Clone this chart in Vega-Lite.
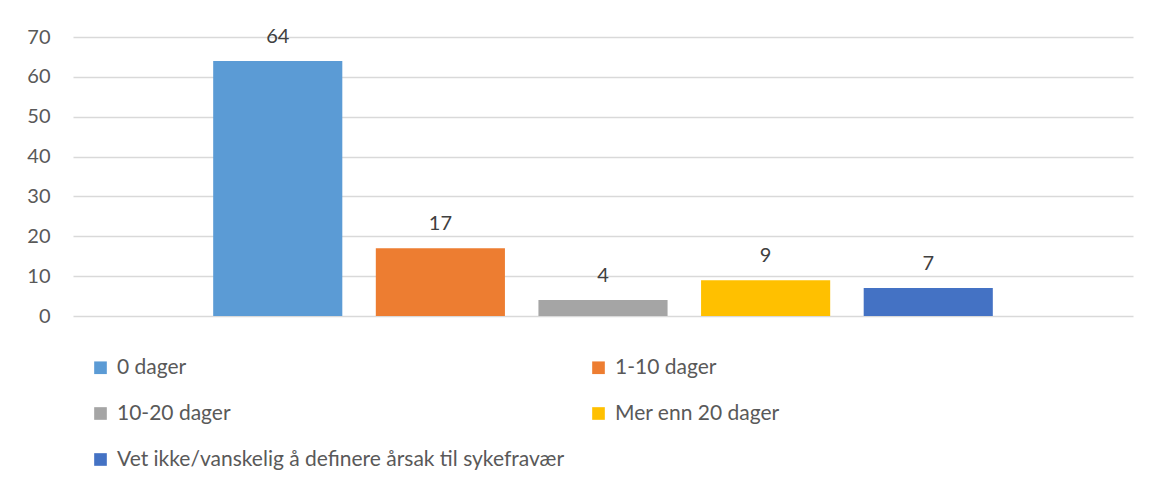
{
  "$schema": "https://vega.github.io/schema/vega-lite/v6.json",
  "width": 1060,
  "height": 279,
  "autosize": {"type": "none"},
  "padding": {"left": 73, "top": 37, "right": 20, "bottom": 170},
  "background": "white",
  "config": {
    "font": "Lato",
    "view": {"stroke": null}
  },
  "data": {
    "values": [
      {"kategori": "0 dager", "antall": 64},
      {"kategori": "1-10 dager", "antall": 17},
      {"kategori": "10-20 dager", "antall": 4},
      {"kategori": "Mer enn 20 dager", "antall": 9},
      {"kategori": "Vet ikke/vanskelig å definere årsak til sykefravær", "antall": 7}
    ]
  },
  "encoding": {
    "x": {
      "field": "kategori",
      "type": "nominal",
      "sort": null,
      "axis": null,
      "scale": {"paddingInner": 0.206, "paddingOuter": 0.862}
    },
    "y": {
      "field": "antall",
      "type": "quantitative",
      "scale": {"domain": [0, 70], "nice": false},
      "axis": {
        "title": null,
        "values": [0, 10, 20, 30, 40, 50, 60, 70],
        "domain": false,
        "ticks": false,
        "grid": true,
        "gridColor": "#d9d9d9",
        "gridWidth": 1.3,
        "labelFontSize": 20,
        "labelColor": "#595959",
        "labelPadding": 23,
        "labelFont": "Lato"
      }
    }
  },
  "layer": [
    {
      "mark": {"type": "bar"},
      "encoding": {
        "color": {
          "field": "kategori",
          "type": "nominal",
          "sort": null,
          "scale": {
            "range": ["#5B9BD5", "#ED7D31", "#A5A5A5", "#FFC000", "#4472C4"]
          },
          "legend": {
            "title": null,
            "orient": "none",
            "direction": "horizontal",
            "legendX": 17,
            "legendY": 320,
            "columns": 2,
            "columnPadding": 23,
            "rowPadding": 24,
            "symbolType": "square",
            "symbolSize": 160,
            "symbolStrokeWidth": 0,
            "symbolOpacity": 1,
            "labelFontSize": 21,
            "labelColor": "#595959",
            "labelFont": "Lato",
            "labelOffset": 6,
            "labelLimit": 800
          }
        }
      }
    },
    {
      "mark": {
        "type": "text",
        "baseline": "alphabetic",
        "dy": -18,
        "fontSize": 20,
        "color": "#404040",
        "font": "Lato"
      },
      "encoding": {
        "text": {"field": "antall", "type": "quantitative"}
      }
    }
  ]
}
